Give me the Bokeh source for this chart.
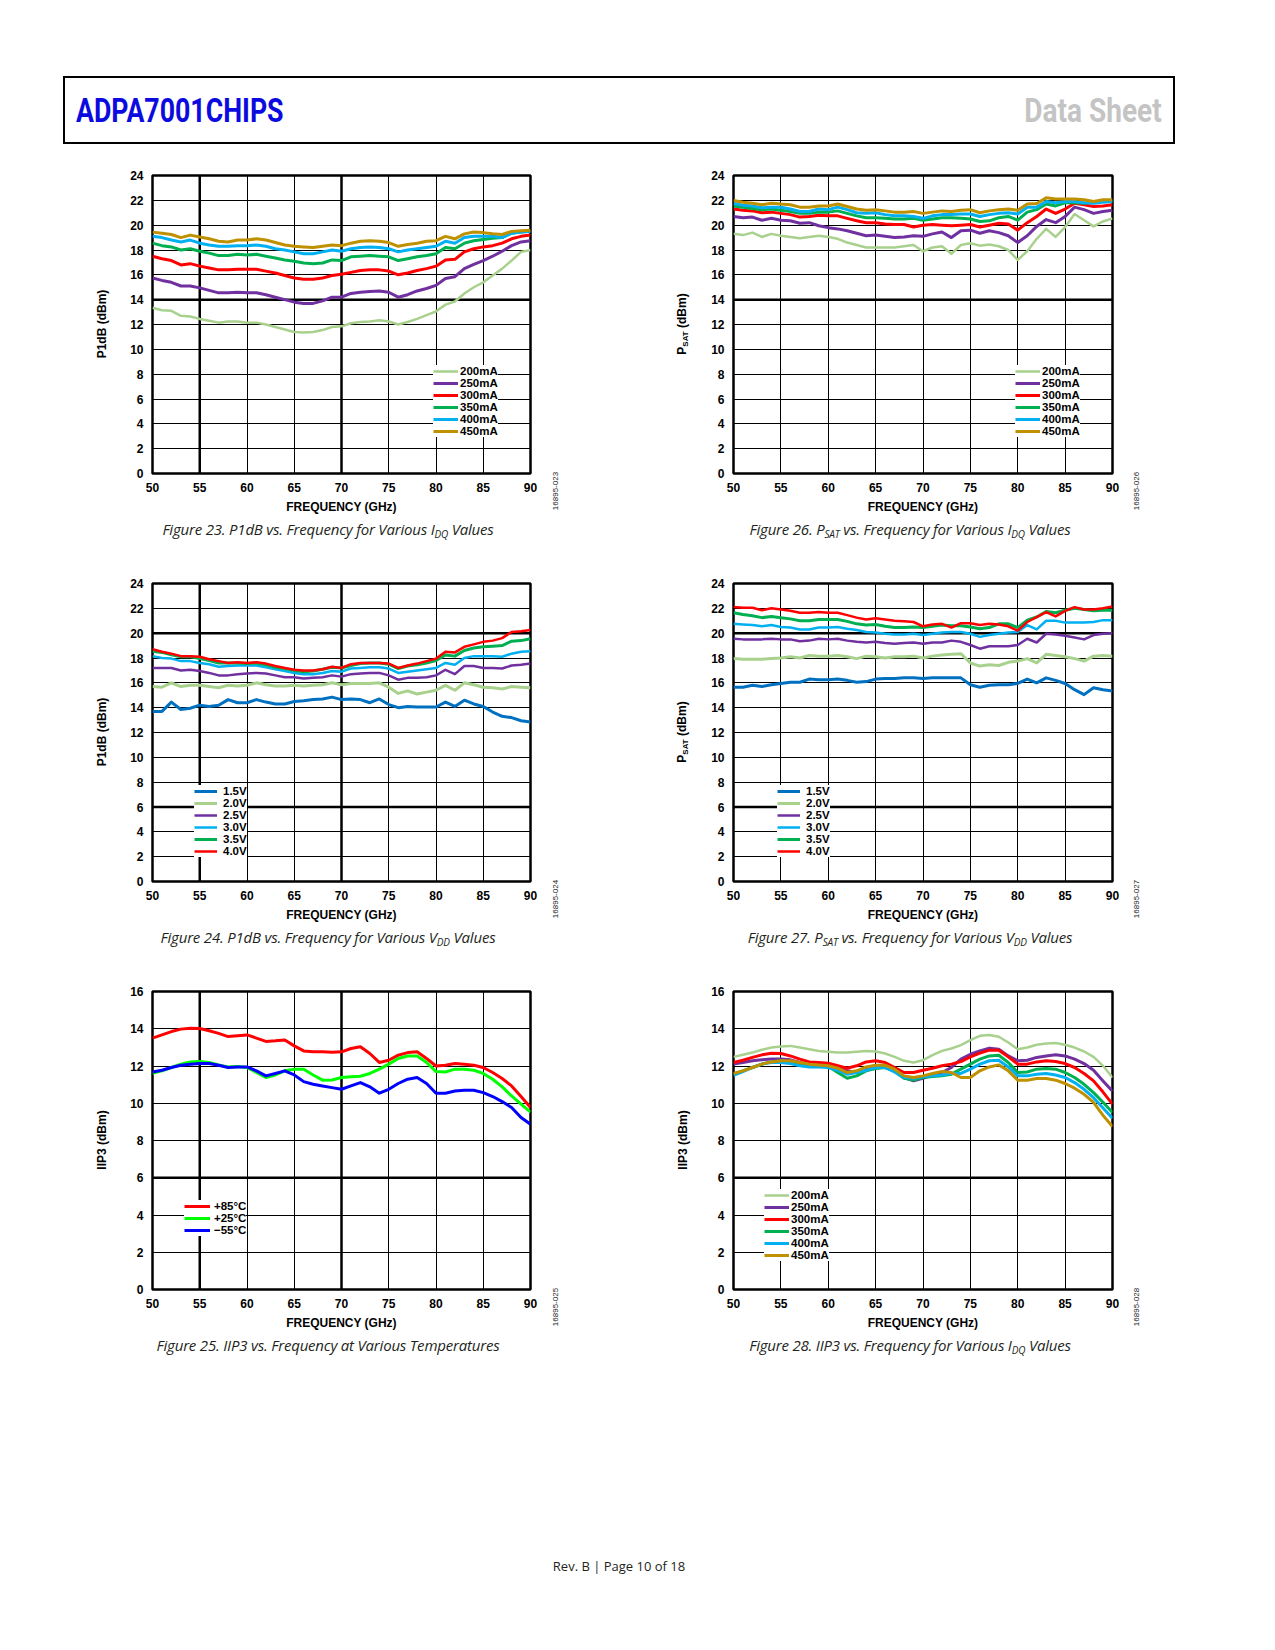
from bokeh.plotting import figure
from bokeh.layouts import column, row
from bokeh.models import Div, Legend, LegendItem, Span, FixedTicker
from bokeh.embed import file_html
from bokeh.resources import INLINE

# eje x comun (GHz)
freq = list(range(50, 91))
x_ticks = [50, 55, 60, 65, 70, 75, 80, 85, 90]

idq_labels = ["200mA", "250mA", "300mA", "350mA", "400mA", "450mA"]
vdd_labels = ["1.5V", "2.0V", "2.5V", "3.0V", "3.5V", "4.0V"]
temp_labels = ["+85°C", "+25°C", "\u221255°C"]

# Figure 23: P1dB vs frecuencia, varios IDQ
p1db_idq_200 = [13.35, 13.15, 13.1, 12.7, 12.65, 12.45, 12.3, 12.15, 12.25, 12.25,
                12.15, 12.15, 12.0, 11.8, 11.6, 11.4, 11.35, 11.4, 11.55, 11.8,
                11.85, 12.1, 12.2, 12.25, 12.35, 12.25, 12.0, 12.2, 12.45, 12.75,
                13.05, 13.6, 13.85, 14.5, 15.0, 15.4, 15.95, 16.5, 17.15, 17.85, 18.0]
p1db_idq_250 = [15.75, 15.55, 15.4, 15.1, 15.1, 14.95, 14.75, 14.55, 14.55, 14.6,
                14.55, 14.55, 14.4, 14.2, 14.0, 13.8, 13.7, 13.7, 13.9, 14.2,
                14.2, 14.5, 14.6, 14.65, 14.7, 14.6, 14.2, 14.4, 14.7, 14.9,
                15.15, 15.7, 15.85, 16.5, 16.85, 17.15, 17.5, 17.9, 18.35, 18.65, 18.75]
p1db_idq_300 = [17.5, 17.3, 17.15, 16.8, 16.9, 16.7, 16.55, 16.4, 16.4, 16.45,
                16.45, 16.45, 16.3, 16.15, 15.95, 15.75, 15.65, 15.65, 15.75, 15.95,
                16.05, 16.2, 16.35, 16.4, 16.4, 16.3, 16.0, 16.15, 16.35, 16.5,
                16.7, 17.2, 17.25, 17.85, 18.1, 18.25, 18.35, 18.55, 18.9, 19.1, 19.2]
p1db_idq_350 = [18.55, 18.35, 18.25, 18.0, 18.1, 17.9, 17.75, 17.55, 17.55, 17.65,
                17.6, 17.65, 17.5, 17.35, 17.2, 17.1, 16.95, 16.9, 16.95, 17.2,
                17.15, 17.45, 17.5, 17.55, 17.5, 17.45, 17.15, 17.3, 17.45, 17.55,
                17.7, 18.2, 18.1, 18.55, 18.75, 18.85, 18.95, 19.0, 19.35, 19.45, 19.5]
p1db_idq_400 = [19.1, 19.0, 18.8, 18.65, 18.8, 18.55, 18.4, 18.3, 18.3, 18.35,
                18.35, 18.4, 18.3, 18.1, 18.0, 17.85, 17.7, 17.7, 17.85, 18.0,
                17.9, 18.1, 18.2, 18.25, 18.2, 18.1, 17.85, 18.0, 18.1, 18.2,
                18.3, 18.7, 18.55, 19.0, 19.1, 19.1, 19.1, 19.0, 19.35, 19.45, 19.5]
p1db_idq_450 = [19.44, 19.35, 19.25, 19.0, 19.2, 19.05, 18.9, 18.7, 18.65, 18.8,
                18.8, 18.9, 18.8, 18.6, 18.4, 18.3, 18.25, 18.2, 18.3, 18.4,
                18.35, 18.55, 18.7, 18.75, 18.7, 18.6, 18.3, 18.45, 18.55, 18.7,
                18.75, 19.1, 18.9, 19.3, 19.45, 19.4, 19.3, 19.25, 19.5, 19.55, 19.6]

# Figure 26: PSAT vs frecuencia, varios IDQ
psat_idq_200 = [19.3, 19.2, 19.4, 19.05, 19.3, 19.15, 19.05, 18.95, 19.05, 19.15,
                19.05, 18.9, 18.6, 18.4, 18.2, 18.2, 18.2, 18.2, 18.3, 18.4,
                17.9, 18.2, 18.3, 17.7, 18.4, 18.55, 18.35, 18.45, 18.3, 18.0,
                17.2, 17.9, 18.9, 19.7, 19.05, 19.85, 20.9, 20.4, 19.9, 20.3, 20.55]
psat_idq_250 = [20.7, 20.6, 20.65, 20.4, 20.55, 20.4, 20.35, 20.15, 20.2, 19.95,
                19.8, 19.7, 19.55, 19.35, 19.15, 19.2, 19.1, 19.0, 19.05, 19.15,
                19.1, 19.3, 19.45, 19.0, 19.55, 19.6, 19.35, 19.55, 19.4, 19.15,
                18.6, 19.15, 19.9, 20.45, 20.2, 20.7, 21.45, 21.25, 20.95, 21.1, 21.2]
psat_idq_300 = [21.3, 21.2, 21.15, 21.0, 21.05, 20.95, 20.85, 20.65, 20.7, 20.8,
                20.75, 20.75, 20.55, 20.35, 20.2, 20.2, 20.1, 20.05, 20.05, 19.85,
                20.0, 20.05, 20.0, 19.95, 20.0, 20.05, 19.85, 20.0, 20.15, 20.1,
                19.6, 20.2, 20.7, 21.3, 20.95, 21.3, 21.77, 21.65, 21.5, 21.55, 21.65]
psat_idq_350 = [21.55, 21.45, 21.35, 21.25, 21.3, 21.2, 21.1, 20.95, 20.95, 21.05,
                21.05, 21.15, 20.95, 20.75, 20.6, 20.6, 20.55, 20.5, 20.5, 20.55,
                20.4, 20.5, 20.6, 20.6, 20.55, 20.5, 20.3, 20.35, 20.6, 20.7,
                20.4, 21.05, 21.25, 21.7, 21.55, 21.8, 21.8, 21.77, 21.85, 21.9, 21.9]
psat_idq_400 = [21.77, 21.6, 21.55, 21.4, 21.45, 21.45, 21.3, 21.1, 21.1, 21.3,
                21.25, 21.45, 21.25, 21.0, 20.95, 21.0, 20.85, 20.75, 20.75, 20.7,
                20.55, 20.75, 20.85, 20.85, 20.9, 20.9, 20.7, 20.85, 20.95, 21.0,
                20.9, 21.45, 21.45, 21.9, 21.8, 21.9, 21.9, 21.8, 21.77, 21.85, 21.9]
psat_idq_450 = [21.99, 21.85, 21.77, 21.65, 21.77, 21.7, 21.65, 21.45, 21.45, 21.55,
                21.55, 21.7, 21.5, 21.3, 21.2, 21.25, 21.15, 21.05, 21.05, 21.1,
                20.95, 21.05, 21.15, 21.1, 21.2, 21.25, 21.0, 21.15, 21.25, 21.3,
                21.2, 21.7, 21.75, 22.2, 22.1, 22.1, 22.1, 22.05, 21.9, 22.05, 22.05]

# Figure 24: P1dB vs frecuencia, varios VDD
p1db_vdd_15 = [13.7, 13.7, 14.45, 13.85, 13.95, 14.2, 14.1, 14.2, 14.65, 14.4,
               14.4, 14.65, 14.45, 14.3, 14.3, 14.5, 14.55, 14.65, 14.7, 14.85,
               14.65, 14.7, 14.65, 14.4, 14.7, 14.25, 14.0, 14.1, 14.05, 14.05,
               14.05, 14.45, 14.1, 14.6, 14.3, 14.1, 13.65, 13.3, 13.2, 12.95, 12.85]
p1db_vdd_20 = [15.7, 15.65, 16.0, 15.7, 15.8, 15.8, 15.7, 15.6, 15.8, 15.75,
               15.8, 16.0, 15.85, 15.75, 15.75, 15.8, 15.75, 15.8, 15.85, 16.0,
               15.85, 15.95, 15.95, 15.95, 16.0, 15.65, 15.15, 15.35, 15.1, 15.25,
               15.4, 15.8, 15.4, 16.0, 15.85, 15.65, 15.6, 15.5, 15.7, 15.65, 15.6]
p1db_vdd_25 = [17.2, 17.2, 17.2, 17.0, 17.05, 16.95, 16.8, 16.6, 16.6, 16.7,
               16.75, 16.8, 16.75, 16.6, 16.45, 16.45, 16.35, 16.4, 16.45, 16.6,
               16.5, 16.7, 16.75, 16.8, 16.8, 16.6, 16.25, 16.4, 16.4, 16.45,
               16.6, 17.05, 16.7, 17.35, 17.35, 17.2, 17.2, 17.15, 17.4, 17.45, 17.55]
p1db_vdd_30 = [18.15, 18.0, 17.95, 17.75, 17.75, 17.6, 17.5, 17.3, 17.35, 17.4,
               17.4, 17.4, 17.25, 17.1, 16.95, 16.8, 16.7, 16.7, 16.8, 16.95,
               16.9, 17.15, 17.2, 17.25, 17.25, 17.15, 16.8, 16.9, 17.0, 17.1,
               17.2, 17.6, 17.45, 18.0, 18.15, 18.15, 18.15, 18.1, 18.35, 18.5, 18.55]
p1db_vdd_35 = [18.55, 18.45, 18.25, 18.1, 18.1, 17.95, 17.8, 17.6, 17.6, 17.6,
               17.55, 17.6, 17.45, 17.25, 17.15, 17.0, 16.9, 16.95, 17.1, 17.25,
               17.2, 17.4, 17.55, 17.6, 17.6, 17.5, 17.15, 17.35, 17.45, 17.6,
               17.8, 18.25, 18.15, 18.6, 18.8, 18.9, 18.95, 19.0, 19.35, 19.4, 19.55]
p1db_vdd_40 = [18.7, 18.5, 18.35, 18.15, 18.15, 18.1, 17.9, 17.75, 17.6, 17.65,
               17.6, 17.65, 17.55, 17.35, 17.2, 17.05, 17.0, 17.0, 17.1, 17.3,
               17.2, 17.5, 17.6, 17.6, 17.6, 17.55, 17.2, 17.4, 17.55, 17.75,
               17.95, 18.5, 18.45, 18.9, 19.1, 19.3, 19.4, 19.6, 20.1, 20.15, 20.25]

# Figure 27: PSAT vs frecuencia, varios VDD
psat_vdd_15 = [15.65, 15.65, 15.8, 15.7, 15.85, 15.95, 16.05, 16.05, 16.3, 16.25,
               16.25, 16.3, 16.2, 16.05, 16.1, 16.3, 16.35, 16.35, 16.4, 16.4,
               16.35, 16.4, 16.4, 16.4, 16.4, 15.85, 15.65, 15.8, 15.85, 15.85,
               15.95, 16.3, 16.0, 16.4, 16.2, 15.95, 15.45, 15.05, 15.6, 15.45, 15.35]
psat_vdd_20 = [17.95, 17.9, 17.9, 17.9, 17.95, 18.0, 18.1, 18.0, 18.2, 18.15,
               18.15, 18.2, 18.1, 17.95, 18.15, 18.1, 18.0, 18.1, 18.1, 18.15,
               18.0, 18.15, 18.25, 18.3, 18.35, 17.6, 17.35, 17.45, 17.4, 17.65,
               17.75, 17.95, 17.6, 18.3, 18.2, 18.1, 17.95, 17.75, 18.15, 18.2, 18.15]
psat_vdd_25 = [19.55, 19.5, 19.5, 19.5, 19.55, 19.5, 19.5, 19.35, 19.4, 19.55,
               19.5, 19.55, 19.4, 19.3, 19.25, 19.3, 19.2, 19.15, 19.2, 19.25,
               19.15, 19.25, 19.25, 19.4, 19.3, 19.05, 18.75, 18.95, 18.95, 18.95,
               19.05, 19.55, 19.25, 19.95, 19.9, 19.8, 19.65, 19.5, 19.85, 19.95, 20.0]
psat_vdd_30 = [20.75, 20.7, 20.65, 20.55, 20.65, 20.5, 20.45, 20.3, 20.3, 20.45,
               20.45, 20.5, 20.35, 20.25, 20.1, 20.05, 19.95, 19.9, 19.9, 19.95,
               19.85, 19.95, 20.05, 20.1, 20.1, 19.95, 19.7, 19.85, 19.95, 20.05,
               20.1, 20.65, 20.3, 21.0, 21.0, 20.85, 20.85, 20.85, 20.9, 21.05, 21.05]
psat_vdd_35 = [21.65, 21.5, 21.4, 21.25, 21.35, 21.25, 21.15, 21.0, 21.0, 21.1,
               21.1, 21.1, 20.95, 20.75, 20.65, 20.7, 20.55, 20.45, 20.45, 20.5,
               20.45, 20.55, 20.65, 20.6, 20.6, 20.5, 20.35, 20.45, 20.75, 20.75,
               20.45, 21.05, 21.3, 21.75, 21.65, 21.85, 22.0, 21.9, 21.8, 21.85, 21.85]
psat_vdd_40 = [22.1, 22.05, 22.05, 21.85, 22.0, 21.9, 21.8, 21.65, 21.65, 21.7,
               21.65, 21.65, 21.45, 21.25, 21.1, 21.2, 21.1, 21.0, 20.95, 20.9,
               20.55, 20.7, 20.75, 20.45, 20.8, 20.8, 20.65, 20.75, 20.7, 20.55,
               20.2, 20.9, 21.3, 21.7, 21.35, 21.8, 22.1, 21.9, 21.9, 22.0, 22.15]

# Figure 25: IIP3 vs frecuencia, varias temperaturas
iip3_temp_p85 = [13.5, 13.67, 13.85, 13.98, 14.03, 14.01, 13.89, 13.75, 13.58, 13.62,
                 13.67, 13.5, 13.32, 13.35, 13.4, 13.08, 12.81, 12.76, 12.76, 12.74,
                 12.76, 12.94, 13.03, 12.67, 12.19, 12.31, 12.58, 12.72, 12.76, 12.4,
                 12.0, 12.04, 12.13, 12.1, 12.04, 11.92, 11.65, 11.33, 10.93, 10.36, 9.77]
iip3_temp_p25 = [11.61, 11.74, 11.92, 12.1, 12.22, 12.24, 12.19, 12.06, 11.95, 11.97,
                 11.92, 11.65, 11.38, 11.52, 11.74, 11.83, 11.83, 11.52, 11.24, 11.25,
                 11.38, 11.42, 11.45, 11.6, 11.83, 12.1, 12.4, 12.54, 12.54, 12.19,
                 11.7, 11.68, 11.83, 11.83, 11.77, 11.6, 11.29, 10.88, 10.39, 9.95, 9.53]
iip3_temp_m55 = [11.68, 11.77, 11.92, 12.04, 12.1, 12.13, 12.13, 12.04, 11.92, 11.95,
                 11.95, 11.74, 11.47, 11.6, 11.74, 11.52, 11.16, 11.02, 10.93, 10.84,
                 10.75, 10.93, 11.11, 10.88, 10.54, 10.75, 11.06, 11.29, 11.38, 11.06,
                 10.54, 10.54, 10.66, 10.7, 10.7, 10.57, 10.36, 10.09, 9.77, 9.23, 8.87]

# Figure 28: IIP3 vs frecuencia, varios IDQ
iip3_idq_200 = [12.49, 12.6, 12.72, 12.87, 12.99, 13.05, 13.08, 12.99, 12.9, 12.81,
                12.76, 12.72, 12.72, 12.76, 12.81, 12.78, 12.67, 12.49, 12.28, 12.19,
                12.31, 12.58, 12.81, 12.94, 13.12, 13.39, 13.62, 13.66, 13.57, 13.26,
                12.9, 12.99, 13.14, 13.21, 13.23, 13.14, 12.99, 12.78, 12.49, 12.01, 11.38]
iip3_idq_250 = [12.1, 12.19, 12.28, 12.33, 12.37, 12.37, 12.33, 12.19, 12.06, 12.01,
                12.01, 11.88, 11.74, 11.65, 11.83, 11.92, 11.92, 11.74, 11.38, 11.2,
                11.34, 11.52, 11.65, 11.92, 12.37, 12.63, 12.81, 12.96, 12.9, 12.54,
                12.28, 12.31, 12.46, 12.54, 12.6, 12.54, 12.37, 12.13, 11.77, 11.2, 10.65]
iip3_idq_300 = [12.19, 12.31, 12.46, 12.6, 12.69, 12.67, 12.54, 12.37, 12.22, 12.19,
                12.15, 12.01, 11.88, 12.01, 12.22, 12.28, 12.19, 11.92, 11.65, 11.65,
                11.77, 11.88, 12.01, 12.1, 12.24, 12.49, 12.69, 12.85, 12.85, 12.49,
                12.1, 12.1, 12.22, 12.28, 12.24, 12.13, 11.92, 11.6, 11.2, 10.6, 9.95]
iip3_idq_350 = [11.56, 11.74, 11.92, 12.1, 12.22, 12.28, 12.22, 12.1, 12.01, 12.01,
                11.97, 11.65, 11.34, 11.47, 11.74, 11.86, 11.92, 11.7, 11.34, 11.25,
                11.38, 11.43, 11.47, 11.56, 11.83, 12.1, 12.37, 12.54, 12.58, 12.19,
                11.65, 11.68, 11.83, 11.86, 11.83, 11.65, 11.38, 11.02, 10.57, 10.05, 9.5]
iip3_idq_400 = [11.5, 11.7, 11.92, 12.1, 12.19, 12.19, 12.13, 12.01, 11.95, 11.95,
                11.92, 11.77, 11.56, 11.65, 11.77, 11.92, 11.92, 11.68, 11.38, 11.34,
                11.42, 11.47, 11.52, 11.6, 11.6, 11.83, 12.1, 12.28, 12.31, 11.95,
                11.47, 11.47, 11.56, 11.6, 11.52, 11.38, 11.11, 10.75, 10.3, 9.75, 9.2]
iip3_idq_450 = [11.6, 11.74, 11.92, 12.1, 12.22, 12.28, 12.28, 12.19, 12.1, 12.06,
                12.01, 11.88, 11.65, 11.74, 11.95, 12.04, 12.04, 11.83, 11.47, 11.38,
                11.47, 11.6, 11.7, 11.65, 11.38, 11.38, 11.74, 11.95, 12.06, 11.74,
                11.24, 11.24, 11.33, 11.33, 11.24, 11.06, 10.81, 10.48, 10.05, 9.35, 8.75]

# colores de las curvas
idq_colors = ["#a9d18e", "#7030a0", "#ff0000", "#00b050", "#00b0f0", "#bf9000"]
vdd_colors = ["#0070c0", "#a9d18e", "#7030a0", "#00b0f0", "#00b050", "#ff0000"]
temp_colors = ["#ff0000", "#00ff00", "#0000ff"]
idq_widths = [2.5, 3, 3, 3, 3, 3]
vdd_widths = [3, 3, 2.5, 2.5, 3, 2.5]
temp_widths = [3, 3, 3]

FONT = "Liberation Sans"
FIG_W, FIG_H = 422, 370


def make_chart(series, labels, colors, widths, y_max, left, frame_w, legend_xy, glyph_w,
               standoff, thick_x, thick_y):
    p = figure(width=FIG_W, height=FIG_H, x_range=(50, 90), y_range=(0, y_max),
               output_backend="svg", toolbar_location=None, tools="",
               min_border_left=left, min_border_right=FIG_W - left - frame_w,
               min_border_top=25, min_border_bottom=47)
    p.outline_line_color = "black"
    p.outline_line_width = 2.5
    p.outline_line_alpha = 1
    p.grid.grid_line_color = "black"
    p.grid.grid_line_alpha = 1
    p.grid.grid_line_width = 1
    p.xaxis.ticker = FixedTicker(ticks=x_ticks)
    p.yaxis.ticker = FixedTicker(ticks=list(range(0, y_max + 1, 2)))
    for ax in (p.xaxis[0], p.yaxis[0]):
        ax.axis_line_color = None
        ax.major_tick_line_color = None
        ax.minor_tick_line_color = None
        ax.major_label_text_font = FONT
        ax.major_label_text_font_style = "bold"
        ax.major_label_text_font_size = "12px"
        ax.major_label_text_color = "black"
        ax.axis_label_text_font = FONT
        ax.axis_label_text_font_style = "bold"
        ax.axis_label_text_font_size = "12px"
        ax.axis_label_text_color = "black"
    p.xaxis.axis_label = "FREQUENCY (GHz)"
    p.xaxis.major_label_standoff = 3
    p.xaxis.axis_label_standoff = 5
    p.yaxis.major_label_standoff = 3

    # lineas de rejilla gruesas (como en la hoja original)
    for xv in thick_x:
        s = Span(location=xv, dimension="height", line_color="black", line_width=2.5)
        s.level = "underlay"
        p.add_layout(s)
    for yv in thick_y:
        s = Span(location=yv, dimension="width", line_color="black", line_width=2.5)
        s.level = "underlay"
        p.add_layout(s)

    rends = []
    for ys, col, lw in zip(series, colors, widths):
        r = p.line(freq, ys, line_color=col, line_width=lw, line_join="round")
        rends.append(r)

    items = [LegendItem(label=lab, renderers=[r]) for lab, r in zip(labels, rends)]
    leg = Legend(items=items, location=legend_xy, background_fill_color="white",
                 background_fill_alpha=1.0, border_line_color=None, padding=4, spacing=0,
                 margin=0, glyph_width=glyph_w, glyph_height=12, label_height=12,
                 label_standoff=standoff, label_text_font=FONT, label_text_font_style="bold",
                 label_text_font_size="11.5px", label_text_color="black")
    p.add_layout(leg)
    return p


def side_text(html, width, cx, cy, style):
    # texto girado (se lee de abajo hacia arriba)
    txt = ('<div style="position:relative;width:%dpx;height:%dpx;">'
           '<div style="position:absolute;left:%dpx;top:%dpx;white-space:nowrap;%s'
           'transform:translate(-50%%,-50%%) rotate(-90deg);">%s</div></div>'
           % (width, FIG_H, cx, cy, style, html))
    return Div(text=txt, width=width, height=FIG_H, margin=0)


YLAB = "font-family:'Liberation Sans';font-weight:bold;font-size:12px;line-height:14px;color:#000;"
SIDE = "font-family:'Liberation Sans';font-size:8px;line-height:9px;color:#222;"


def ylabel(html, width, cx):
    return side_text(html, width, cx, 174, YLAB)


def fig_id(txt, width, cx):
    return side_text(txt, width, cx, 341, SIDE)


def caption(html, width, center):
    txt = ('<div style="position:relative;width:%dpx;height:38px;">'
           '<div style="position:absolute;left:%dpx;top:0px;width:500px;text-align:center;'
           'font-family:\'Open Sans\';font-style:italic;font-size:15px;line-height:18px;'
           'letter-spacing:-0.2px;color:#231f20;white-space:nowrap;">%s</div></div>'
           % (width, center - 250, html))
    return Div(text=txt, width=width, height=38, margin=0)


def sub(t):
    return '<span style="font-size:10px;position:relative;top:3px;">%s</span>' % t


PSAT_HTML = 'P<span style="font-size:8px;position:relative;top:2px;">SAT</span> (dBm)'


def left_chart(fig, ylab, fid):
    return row(ylabel(ylab, 110, 94), fig, fig_id(fid, 100, 15))


def right_chart(fig, ylab, fid):
    return row(ylabel(ylab, 60, 43), fig, fig_id(fid, 145, 14))


f23 = make_chart([p1db_idq_200, p1db_idq_250, p1db_idq_300, p1db_idq_350, p1db_idq_400, p1db_idq_450],
                 idq_labels, idq_colors, idq_widths, 24, 34, 378, (281, 36), 25, 2, [55, 70], [14])
f26 = make_chart([psat_idq_200, psat_idq_250, psat_idq_300, psat_idq_350, psat_idq_400, psat_idq_450],
                 idq_labels, idq_colors, idq_widths, 24, 33, 379, (282, 36), 25, 2, [], [14])
f24 = make_chart([p1db_vdd_15, p1db_vdd_20, p1db_vdd_25, p1db_vdd_30, p1db_vdd_35, p1db_vdd_40],
                 vdd_labels, vdd_colors, vdd_widths, 24, 34, 378, (42, 24), 23, 6, [55, 70], [20, 6])
f27 = make_chart([psat_vdd_15, psat_vdd_20, psat_vdd_25, psat_vdd_30, psat_vdd_35, psat_vdd_40],
                 vdd_labels, vdd_colors, vdd_widths, 24, 33, 379, (44, 24), 23, 6, [], [20, 6])
f25 = make_chart([iip3_temp_p85, iip3_temp_p25, iip3_temp_m55],
                 temp_labels, temp_colors, temp_widths, 16, 34, 378, (32, 53), 26, 4, [55, 70], [6])
f28 = make_chart([iip3_idq_200, iip3_idq_250, iip3_idq_300, iip3_idq_350, iip3_idq_400, iip3_idq_450],
                 idq_labels, idq_colors, idq_widths, 16, 33, 379, (31, 28), 25, 2, [], [6])

cap23 = caption("Figure 23. P1dB vs. Frequency for Various I%s Values" % sub("DQ"), 632, 320)
cap26 = caption("Figure 26. P%s vs. Frequency for Various I%s Values" % (sub("SAT"), sub("DQ")), 627, 270)
cap24 = caption("Figure 24. P1dB vs. Frequency for Various V%s Values" % sub("DD"), 632, 320)
cap27 = caption("Figure 27. P%s vs. Frequency for Various V%s Values" % (sub("SAT"), sub("DD")), 627, 270)
cap25 = caption("Figure 25. IIP3 vs. Frequency at Various Temperatures", 632, 320)
cap28 = caption("Figure 28. IIP3 vs. Frequency for Various I%s Values" % sub("DQ"), 627, 270)

HEAD = ("position:absolute;top:86px;font-family:Roboto;font-weight:bold;font-size:33px;"
        "line-height:33px;white-space:nowrap;")
header = Div(width=1259, height=142, margin=0, text=(
    '<div style="position:relative;width:1259px;height:142px;">'
    '<div style="position:absolute;left:55px;top:68px;width:1112px;height:68px;'
    'border:2.5px solid #000;box-sizing:border-box;"></div>'
    '<div style="' + HEAD + 'left:68px;color:#0b0be0;transform:scaleX(0.81);'
    'transform-origin:left top;">ADPA7001CHIPS</div>'
    '<div style="' + HEAD + 'right:105px;color:#c4c4c4;transform:scaleX(0.85);'
    'transform-origin:right top;">Data Sheet</div>'
    '</div>'))

footer = Div(width=1259, height=220, margin=0, text=(
    '<div style="position:relative;width:1259px;height:220px;">'
    '<div style="position:absolute;left:311px;top:183px;width:600px;text-align:center;'
    'font-family:\'Open Sans\';font-size:13px;line-height:18px;color:#231f20;">'
    'Rev. B | Page 10 of 18</div></div>'))

page = column(header,
              row(left_chart(f23, "P1dB (dBm)", "16895-023"), right_chart(f26, PSAT_HTML, "16895-026")),
              row(cap23, cap26),
              row(left_chart(f24, "P1dB (dBm)", "16895-024"), right_chart(f27, PSAT_HTML, "16895-027")),
              row(cap24, cap27),
              row(left_chart(f25, "IIP3 (dBm)", "16895-025"), right_chart(f28, "IIP3 (dBm)", "16895-028")),
              row(cap25, cap28),
              footer, margin=(8, 0, 0, 8))

open("out.html", "w").write(file_html(page, INLINE))
